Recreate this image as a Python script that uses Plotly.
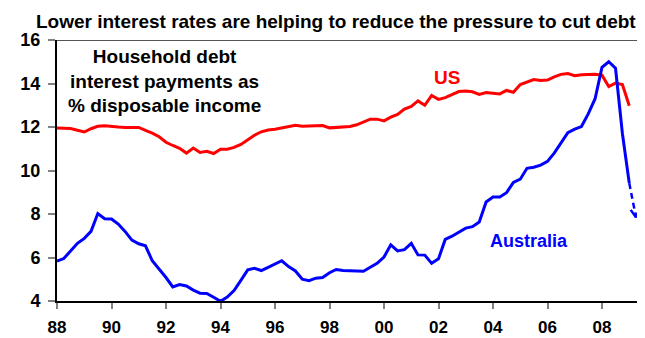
import pandas as pd
import plotly.graph_objects as go

# Quarterly data, 1988 Q1 to 2009 Q1
start_quarter = "1988-01-01"
n_quarters = 85

us_values = [
    11.95, 11.95, 11.93, 11.85, 11.77, 11.92, 12.03, 12.06,
    12.02, 12.00, 11.98, 11.99, 11.98, 11.85, 11.72, 11.55,
    11.30, 11.15, 11.02, 10.80, 11.03, 10.83, 10.88, 10.78,
    10.98, 10.98, 11.06, 11.20, 11.42, 11.62, 11.78, 11.86,
    11.90, 11.95, 12.02, 12.08, 12.04, 12.05, 12.07, 12.07,
    11.96, 11.98, 11.97, 12.02, 12.10, 12.22, 12.36, 12.36,
    12.28, 12.45, 12.58, 12.82, 12.95, 13.20, 13.00, 13.45,
    13.27, 13.35, 13.50, 13.63, 13.65, 13.62, 13.50, 13.58,
    13.55, 13.52, 13.68, 13.60, 13.95, 14.08, 14.18, 14.14,
    14.16, 14.30, 14.42, 14.46, 14.36, 14.40, 14.42, 14.42,
    14.38, 13.86, 14.02, 13.95, 12.98,
]

aus_values = [
    5.83, 5.95, 6.30, 6.65, 6.88, 7.20, 8.02, 7.78,
    7.77, 7.54, 7.20, 6.80, 6.63, 6.54, 5.85, 5.47,
    5.08, 4.65, 4.76, 4.69, 4.50, 4.36, 4.35, 4.17,
    3.99, 4.18, 4.48, 4.95, 5.43, 5.50, 5.40, 5.55,
    5.70, 5.85, 5.58, 5.38, 5.00, 4.93, 5.05, 5.08,
    5.30, 5.45, 5.40, 5.38, 5.37, 5.37, 5.55, 5.73,
    6.02, 6.58, 6.30, 6.36, 6.65, 6.12, 6.11, 5.73,
    5.94, 6.83, 6.98, 7.16, 7.35, 7.42, 7.63, 8.55,
    8.78, 8.78, 8.98, 9.45, 9.60, 10.10, 10.15, 10.25,
    10.42, 10.80, 11.25, 11.74, 11.90, 12.02, 12.60, 13.30,
    14.74, 15.00, 14.70, 11.70, 9.42,
]

# Australia projection (dashed arrow)
aus_forecast_date = "2009-04-01"
aus_forecast_value = 7.85

tick_years = [1988, 1990, 1992, 1994, 1996, 1998, 2000, 2002, 2004, 2006, 2008]
tick_labels = ["88", "90", "92", "94", "96", "98", "00", "02", "04", "06", "08"]

title_text = "Lower interest rates are helping to reduce the pressure to cut debt"
note_text = "Household debt<br>interest payments as<br>% disposable income"

dates = pd.date_range(start_quarter, periods=n_quarters, freq="QS")
tick_vals = [pd.Timestamp(f"{y}-01-01") for y in tick_years]

FONT = "Liberation Sans, Arial, sans-serif"
RED = "#FF0000"
BLUE = "#0000FF"

fig = go.Figure()
fig.add_trace(go.Scatter(x=dates, y=us_values, mode="lines",
                         line=dict(color=RED, width=3), hoverinfo="skip"))
fig.add_trace(go.Scatter(x=dates, y=aus_values, mode="lines",
                         line=dict(color=BLUE, width=3), hoverinfo="skip"))

# dashed projection
last_date = dates[-1]
fc_date = pd.Timestamp(aus_forecast_date)
fig.add_trace(go.Scatter(x=[last_date, fc_date], y=[aus_values[-1], aus_forecast_value],
                         mode="lines", line=dict(color=BLUE, width=2.5, dash="6px,4px"),
                         hoverinfo="skip"))
# chevron arrow head at the projection tip
fig.add_trace(go.Scatter(
    x=[fc_date - pd.Timedelta(days=71), fc_date, fc_date + pd.Timedelta(days=44)],
    y=[aus_forecast_value + 0.34, aus_forecast_value, aus_forecast_value + 0.34],
    mode="lines", line=dict(color=BLUE, width=2.5), hoverinfo="skip"))

fig.add_shape(type="line", xref="paper", yref="y", x0=0, x1=1, y0=16, y1=16,
              line=dict(color="#555555", width=2))

fig.add_annotation(text=f"<b>{title_text}</b>", xref="paper", yref="paper",
                   x=0.4745, y=1.072, showarrow=False, xanchor="center", yanchor="middle",
                   font=dict(family=FONT, size=19, color="black"))
fig.add_annotation(text=f"<b>{note_text}</b>", xref="paper", yref="paper",
                   x=0.182, y=0.843, showarrow=False, xanchor="center", yanchor="middle",
                   align="center", font=dict(family=FONT, size=19, color="black"))
fig.add_annotation(text="<b>US</b>", xref="paper", yref="paper",
                   x=0.664, y=0.856, showarrow=False, xanchor="center", yanchor="middle",
                   font=dict(family=FONT, size=19, color=RED))
fig.add_annotation(text="<b>Australia</b>", xref="paper", yref="paper",
                   x=0.803, y=0.23, showarrow=False, xanchor="center", yanchor="middle",
                   font=dict(family=FONT, size=18, color=BLUE))

# the page body adds an 8px offset, so the figure is sized to fit the window
fig.update_layout(
    width=637, height=330,
    margin=dict(l=49, r=0, t=32, b=37, autoexpand=False),
    paper_bgcolor="white", plot_bgcolor="white",
    showlegend=False,
    font=dict(family=FONT, color="black"),
)
fig.update_xaxes(
    range=["1988-01-01", "2009-07-31"],
    tickvals=tick_vals, ticktext=tick_labels,
    showgrid=False, zeroline=False, automargin=False,
    showline=True, linecolor="black", linewidth=2,
    ticks="outside", ticklen=6, tickwidth=2, tickcolor="#808080",
    tickfont=dict(family=FONT, size=17, color="black", weight="bold"),
    ticklabelstandoff=4,
)
fig.update_yaxes(
    range=[4, 16], dtick=2,
    showgrid=False, zeroline=False, automargin=False,
    showline=True, linecolor="black", linewidth=2,
    ticks="outside", ticklen=7, tickwidth=2, tickcolor="#808080",
    tickfont=dict(family=FONT, size=18, color="black", weight="bold"),
    ticklabelstandoff=4,
)

fig.write_html("out.html")
